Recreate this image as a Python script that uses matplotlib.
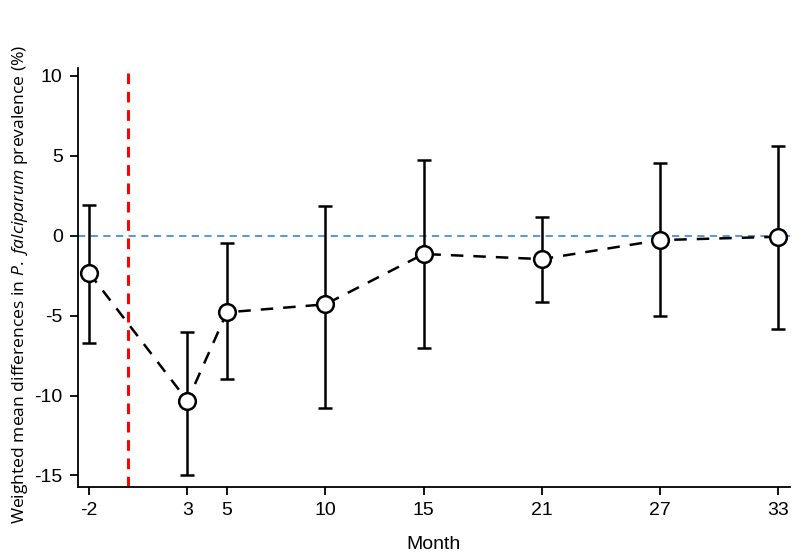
import matplotlib
matplotlib.use('Agg')
from matplotlib import pyplot as plt
import numpy as np

# data
months = [-2, 3, 5, 10, 15, 21, 27, 33]
wmd = [-2.31, -10.33, -4.79, -4.29, -1.14, -1.46, -0.27, -0.06]
ci_low = [-6.69, -15.0, -8.98, -10.79, -7.0, -4.14, -5.0, -5.83]
ci_high = [1.92, -6.04, -0.46, 1.88, 4.73, 1.19, 4.53, 5.61]
intervention_month = 0
xtick_labels = ['-2', '3', '5', '10', '15', '21', '27', '33']
yticks = [10, 5, 0, -5, -10, -15]

plt.rcParams['font.family'] = ['Liberation Sans', 'DejaVu Sans']
plt.rcParams['axes.unicode_minus'] = False
plt.rcParams['mathtext.fontset'] = 'custom'
plt.rcParams['mathtext.rm'] = 'Open Sans'
plt.rcParams['mathtext.it'] = 'Open Sans:italic'

fig = plt.figure(figsize=(8, 5.59), dpi=100)
ax = fig.add_axes([0.0975, 0.1288, 0.89, 0.749])

wmd = np.array(wmd)
yerr = [wmd - np.array(ci_low), np.array(ci_high) - wmd]

# reference line at zero and intervention start
ax.axhline(0, color='#4a8fd4', linestyle=(0, (4, 3)), linewidth=1.3, zorder=1)
ax.axvline(intervention_month, color='#ff0000', linestyle=(0, (3.5, 2.5)), linewidth=2.2, zorder=1)

ax.errorbar(months, wmd, yerr=yerr, fmt='none', ecolor='black', elinewidth=1.8,
            capsize=5, capthick=1.8, zorder=2)
ax.plot(months, wmd, color='black', linestyle=(0, (5, 4)), linewidth=1.8, zorder=3)
ax.plot(months, wmd, 'o', markersize=12, markerfacecolor='white',
        markeredgecolor='black', markeredgewidth=1.8, zorder=4)

ax.set_xlim(-2.56, 33.6)
ax.set_ylim(-15.72, 10.48)
ax.set_xticks(months)
ax.set_xticklabels(xtick_labels)
ax.set_yticks(yticks)

ax.spines['top'].set_visible(False)
ax.spines['right'].set_visible(False)
ax.spines['left'].set_linewidth(1.3)
ax.spines['bottom'].set_linewidth(1.3)
ax.tick_params(axis='both', direction='out', length=6, width=1.3, labelsize=14, pad=5)

ax.set_xlabel('Month', fontsize=14, labelpad=12)
ax.set_ylabel('Weighted mean differences in $\\it{P.}$ $\\it{falciparum}$ prevalence (%)',
              fontsize=12.6, family=['Open Sans', 'DejaVu Sans'])
ax.yaxis.set_label_coords(-0.068, 0.485)

fig.savefig('out.png', dpi=100)
